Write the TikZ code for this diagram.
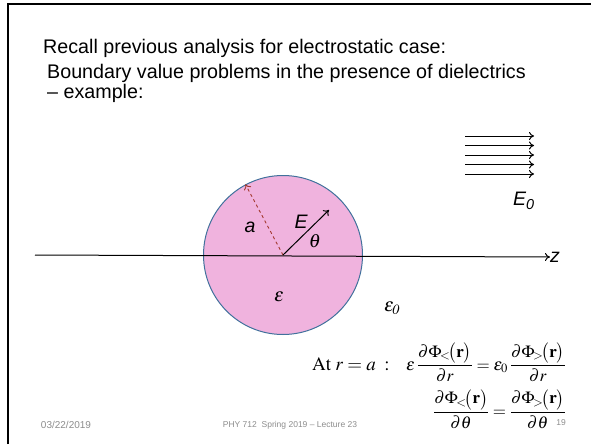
\documentclass[tikz,border=0pt]{standalone}
\usepackage{amsmath}
\usepackage{mathptmx}
\usepackage[no-math]{fontspec}
\setmainfont{Liberation Sans}
\usetikzlibrary{arrows.meta,positioning}
\definecolor{SpherePink}{HTML}{F0B3DE}
\definecolor{SphereRim}{HTML}{41719C}
\definecolor{RadiusRed}{HTML}{A3382E}
\definecolor{FooterGrey}{HTML}{8C8C8C}

\begin{document}
\begin{tikzpicture}[
  x=1pt,y=-1pt,
  heading/.style={anchor=base west,inner sep=0pt,font=\fontsize{19.7}{23}\selectfont},
  footer/.style={inner sep=0pt,text=FooterGrey,font=\fontsize{8.5}{10}\selectfont},
  label/.style={inner sep=0pt,font=\fontsize{19.5}{22}\selectfont\itshape},
  symb/.style={inner sep=0pt,font=\fontsize{19}{22}\selectfont},
  sphere/.style={circle,draw=SphereRim,fill=SpherePink,line width=1pt,
    minimum size=159pt,inner sep=0pt},
  axis/.style={-{To[length=5pt,width=8pt]},line width=1pt},
  field/.style={-{To[length=5pt,width=8pt]},line width=1pt},
  radius/.style={-{To[length=5pt,width=8pt]},draw=RadiusRed,dashed,line width=.9pt},
  bc/.style={inner sep=0pt,font=\fontsize{17}{20}\selectfont}
]
  \useasboundingbox (0,0) rectangle (591,444);
  \draw[line width=2pt] (8,444) -- (8,4) -- (591,4);

  \node[heading] (recall) at (43,53) {Recall previous analysis for electrostatic case:};
  \node[heading] (bvp) at (47,78) {Boundary value problems in the presence of dielectrics};
  \node[heading] (example) at (47,98) {-- example:};

  % sphere and axis
  \node[sphere] (sphere) at (283,255) {};
  \coordinate (zstart) at (35,255);
  \node[label] (zlabel) at (555,257) {z};
  \draw[axis] (zstart) -- (zlabel.west);

  \coordinate (Etip) at (329,210);
  \draw[radius] (sphere.center) -- (sphere.118);
  \draw[field] (sphere.center) -- (Etip);
  \node[label] (alabel) at (250,227) {a};
  \node[label] (Elabel) at (301,222) {E};
  \node[symb] (theta) at (315,241) {$\theta$};
  \node[symb] (eps) at (279,297) {$\varepsilon$};
  \node[symb] (eps0) at (392,308) {$\varepsilon_{\mathit{0}}$};

  % uniform field
  \foreach \y in {136,145.5,155,164.5,174}
    \draw[field] (465,\y) -- (534,\y);
  \node[label] (E0) at (524,201) {E\textsubscript{0}};

  % boundary conditions
  \node[inner sep=0pt,anchor=base west,font=\fontsize{19}{22}\selectfont] (atra) at (312,370)
    {$\mathrm{At}\;r=a\;:$};
  \node[bc,anchor=base west] (bc1) at (406,370)
    {$\varepsilon\,\dfrac{\partial\Phi_{\!<}\!\bigl(\mathbf r\bigr)}{\partial r}
     =\varepsilon_0\,\dfrac{\partial\Phi_{\!>}\!\bigl(\mathbf r\bigr)}{\partial r}$};
  \node[bc,anchor=north east] (bc2) at ([yshift=-7pt]bc1.south east)
    {$\dfrac{\partial\Phi_{\!<}\!\bigl(\mathbf r\bigr)}{\partial\theta}
     =\dfrac{\partial\Phi_{\!>}\!\bigl(\mathbf r\bigr)}{\partial\theta}$};

  \node[footer,font=\fontsize{10}{12}\selectfont] (date) at (66,425) {03/22/2019};
  \node[footer] (course) at (290,425) {PHY 712\ \ Spring 2019 -- Lecture 23};
  \node[footer] (page) at (561,423) {19};
\end{tikzpicture}
\end{document}
